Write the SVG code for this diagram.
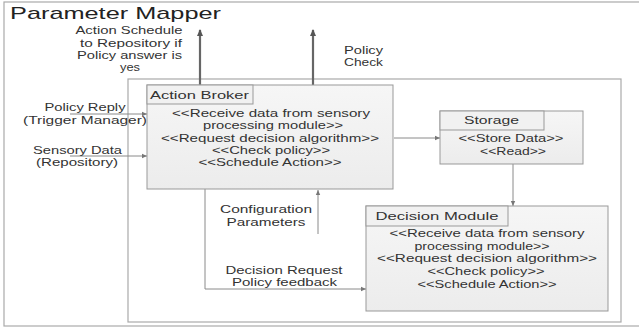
<svg xmlns="http://www.w3.org/2000/svg" width="639" height="332" viewBox="0 0 639 332">
  <style>
    text { font-family: "Liberation Sans", "Open Sans", sans-serif; fill: #333; font-size: 10.5px; }
    .mid { text-anchor: middle; }
    .head { font-size: 11px; }
    .title { font-size: 17px; fill: #222; }
    .frame { fill: none; stroke: #aaa; stroke-width: 1.2; }
    .box { fill: url(#boxFill); stroke: #999; stroke-width: 1; }
    .tab { fill: #f1f1f1; stroke: #999; stroke-width: 1; }
    .link { fill: none; stroke: #8a8a8a; stroke-width: 1; }
    .out { fill: none; stroke: #666; stroke-width: 2.2; }
  </style>
  <defs>
    <linearGradient id="boxFill" x1="0" y1="0" x2="0" y2="1">
      <stop offset="0" stop-color="#f6f6f6"/>
      <stop offset="1" stop-color="#ececec"/>
    </linearGradient>
    <marker id="tip" markerWidth="6" markerHeight="6" refX="5" refY="3" orient="auto" markerUnits="userSpaceOnUse">
      <path d="M0,0.8 L5,3 L0,5.2 Z" fill="#777"/>
    </marker>
    <marker id="tipBold" markerWidth="8" markerHeight="8" refX="6" refY="4" orient="auto" markerUnits="userSpaceOnUse">
      <path d="M0,1 L7,4 L0,7 Z" fill="#555"/>
    </marker>
  </defs>

  <!-- outer frame and container -->
  <rect class="frame" x="4" y="2" width="640" height="324"/>
  <rect class="frame" x="128" y="79" width="493" height="243" stroke="#b0b0b0"/>

  <text class="title" x="10" y="19" textLength="211" lengthAdjust="spacingAndGlyphs">Parameter Mapper</text>

  <!-- connectors -->
  <g id="connectors">
    <line class="out" x1="200" y1="85" x2="200" y2="30" marker-end="url(#tipBold)"/>
    <line class="out" x1="313" y1="85" x2="313" y2="30" marker-end="url(#tipBold)"/>
    <line class="link" x1="70" y1="114" x2="147" y2="114" marker-end="url(#tip)"/>
    <line class="link" x1="70" y1="156" x2="147" y2="156" marker-end="url(#tip)"/>
    <line class="link" x1="394" y1="138" x2="440" y2="138" marker-end="url(#tip)"/>
    <line class="link" x1="513" y1="164" x2="513" y2="206" marker-end="url(#tip)"/>
    <polyline class="link" points="205,189 205,289 366,289" marker-end="url(#tip)"/>
    <line class="link" x1="318" y1="234" x2="318" y2="190" marker-end="url(#tip)"/>
  </g>

  <!-- connector labels -->
  <g id="labels">
    <text class="mid" x="129" y="34" textLength="107" lengthAdjust="spacingAndGlyphs">Action Schedule</text>
    <text class="mid" x="131" y="47" textLength="102" lengthAdjust="spacingAndGlyphs">to Repository if</text>
    <text class="mid" x="129.5" y="59" textLength="105" lengthAdjust="spacingAndGlyphs">Policy answer is</text>
    <text class="mid" x="130" y="71" textLength="20" lengthAdjust="spacingAndGlyphs">yes</text>
    <text x="344" y="54" textLength="39" lengthAdjust="spacingAndGlyphs">Policy</text>
    <text x="344" y="66" textLength="39" lengthAdjust="spacingAndGlyphs">Check</text>
    <text class="mid" x="85" y="111" textLength="81" lengthAdjust="spacingAndGlyphs">Policy Reply</text>
    <text class="mid" x="85" y="124" textLength="124" lengthAdjust="spacingAndGlyphs">(Trigger Manager)</text>
    <text class="mid" x="77.5" y="154" textLength="89" lengthAdjust="spacingAndGlyphs">Sensory Data</text>
    <text class="mid" x="77" y="166" textLength="82" lengthAdjust="spacingAndGlyphs">(Repository)</text>
    <text class="mid" x="266" y="213" textLength="92" lengthAdjust="spacingAndGlyphs">Configuration</text>
    <text class="mid" x="266" y="226" textLength="79" lengthAdjust="spacingAndGlyphs">Parameters</text>
    <text class="mid" x="284" y="274" textLength="117" lengthAdjust="spacingAndGlyphs">Decision Request</text>
    <text class="mid" x="284.5" y="286" textLength="105" lengthAdjust="spacingAndGlyphs">Policy feedback</text>
  </g>

  <!-- Action Broker -->
  <g id="action-broker">
    <rect class="box" x="147" y="85" width="246" height="104"/>
    <rect class="tab" x="147" y="85" width="106" height="19"/>
    <text class="mid head" x="199.5" y="99" textLength="99" lengthAdjust="spacingAndGlyphs">Action Broker</text>
    <text class="mid" x="271" y="117" textLength="198" lengthAdjust="spacingAndGlyphs">&lt;&lt;Receive data from sensory</text>
    <text class="mid" x="273" y="129" textLength="140" lengthAdjust="spacingAndGlyphs">processing module&gt;&gt;</text>
    <text class="mid" x="270" y="142" textLength="218" lengthAdjust="spacingAndGlyphs">&lt;&lt;Request decision algorithm&gt;&gt;</text>
    <text class="mid" x="271" y="154" textLength="118" lengthAdjust="spacingAndGlyphs">&lt;&lt;Check policy&gt;&gt;</text>
    <text class="mid" x="270" y="166" textLength="143" lengthAdjust="spacingAndGlyphs">&lt;&lt;Schedule Action&gt;&gt;</text>
  </g>

  <!-- Storage -->
  <g id="storage">
    <rect class="box" x="440" y="111" width="143" height="53"/>
    <rect class="tab" x="440" y="111" width="104" height="19"/>
    <text class="mid head" x="491.5" y="124" textLength="55" lengthAdjust="spacingAndGlyphs">Storage</text>
    <text class="mid" x="511" y="142" textLength="105" lengthAdjust="spacingAndGlyphs">&lt;&lt;Store Data&gt;&gt;</text>
    <text class="mid" x="513" y="155" textLength="66" lengthAdjust="spacingAndGlyphs">&lt;&lt;Read&gt;&gt;</text>
  </g>

  <!-- Decision Module -->
  <g id="decision-module">
    <rect class="box" x="366" y="206" width="242" height="105"/>
    <rect class="tab" x="366" y="206" width="142" height="20"/>
    <text class="mid head" x="437" y="220" textLength="123" lengthAdjust="spacingAndGlyphs">Decision Module</text>
    <text class="mid" x="487" y="237" textLength="195" lengthAdjust="spacingAndGlyphs">&lt;&lt;Receive data from sensory</text>
    <text class="mid" x="482" y="250" textLength="135" lengthAdjust="spacingAndGlyphs">processing module&gt;&gt;</text>
    <text class="mid" x="487" y="262" textLength="220" lengthAdjust="spacingAndGlyphs">&lt;&lt;Request decision algorithm&gt;&gt;</text>
    <text class="mid" x="486" y="275" textLength="117" lengthAdjust="spacingAndGlyphs">&lt;&lt;Check policy&gt;&gt;</text>
    <text class="mid" x="487" y="288" textLength="139" lengthAdjust="spacingAndGlyphs">&lt;&lt;Schedule Action&gt;&gt;</text>
  </g>
</svg>
